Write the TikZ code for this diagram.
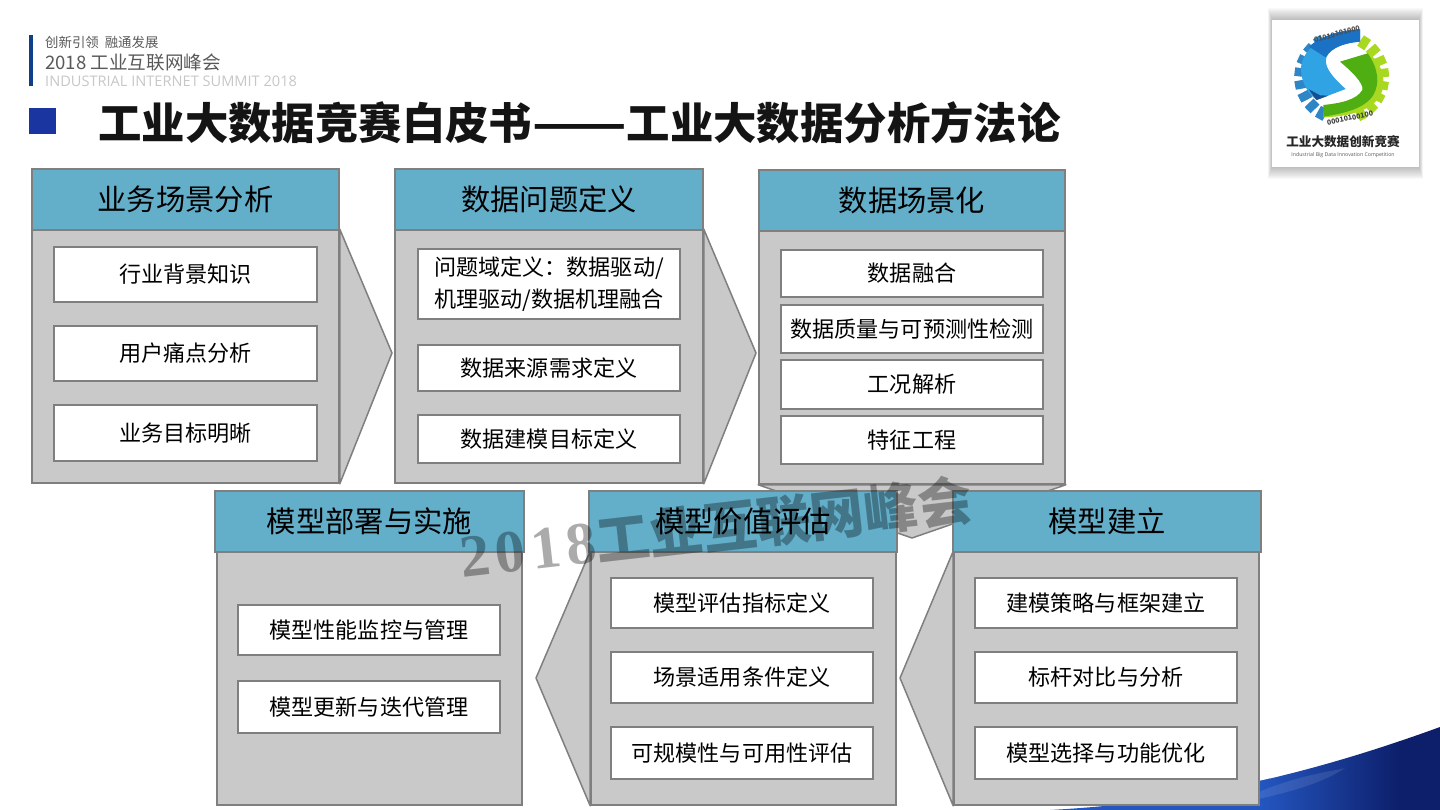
\documentclass[tikz,border=0pt]{standalone}
\usepackage{fontspec}
\setmainfont{Noto Sans CJK SC}
\newfontfamily\latinsans{Open Sans}
\newfontfamily\wmserif{Liberation Serif}[LetterSpace=9]
\usetikzlibrary{calc}
\definecolor{hdr}{HTML}{63AFCA}
\definecolor{bodyfill}{HTML}{C9C9C9}
\definecolor{edge}{HTML}{7F7F7F}
\definecolor{logocyan}{HTML}{2FA3E3}
\definecolor{logoblue}{HTML}{1B72C4}
\definecolor{logodark}{HTML}{14508F}
\definecolor{logotooth}{HTML}{2E86C6}
\definecolor{logogreen}{HTML}{4FAE12}
\definecolor{logolime}{HTML}{A8D820}
\definecolor{seaA}{HTML}{2456C0}
\definecolor{seaB}{HTML}{0D1F6B}
\tikzset{
  hdrbox/.style={draw=edge,line width=1.6pt,fill=hdr,inner sep=0pt,font=\fontsize{29.3}{32}\selectfont,text=black},
  bodybox/.style={draw=edge,line width=1.6pt,fill=bodyfill,inner sep=0pt},
  itembox/.style={draw=edge,line width=1.1pt,fill=white,inner sep=0pt,font=\fontsize{22.1}{32}\selectfont,text=black,align=center},
  pointer/.style={draw=edge,line width=1.5pt,fill=bodyfill,line join=round},
  lab/.style={inner sep=0pt,anchor=west},
  tooth/.style={line width=8.5pt}
}
\newcommand{\rbox}[7]{%
  \pgfmathsetmacro{\rw}{#4-#2}\pgfmathsetmacro{\rh}{#5-#3}%
  \pgfmathsetmacro{\rx}{(#4+#2)/2}\pgfmathsetmacro{\ry}{(#5+#3)/2}%
  \node[#6,minimum width=\rw pt,minimum height=\rh pt] (#1) at (\rx,\ry) {#7};}
\begin{document}
\begin{tikzpicture}[x=1pt,y=-1pt]
\useasboundingbox (0,0) rectangle (1440,810);
% swoosh
\begin{scope}
  \clip (1050,810) .. controls (1180,803) and (1300,778) .. (1440,727) -- (1440,810) -- cycle;
  \fill[seaA] (1040,720) rectangle (1270,812);
  \shade[left color=seaA,right color=seaB] (1260,720) rectangle (1400,812);
  \fill[seaB] (1399,720) rectangle (1441,812);
  \fill[white,opacity=.10] (1230,805) .. controls (1290,775) and (1330,772) .. (1345,768) .. controls (1320,785) and (1280,795) .. (1230,805) -- cycle;
\end{scope}
% head block
\fill[fill={rgb,255:red,15;green,63;blue,134}] (29,35) rectangle (33,86);
\node[lab,text=black!65,font=\fontsize{13.4}{15}\selectfont] (slogan) at (45,42) {创新引领\hspace{0.45em}融通发展};
\node[lab,text=black!65,font=\fontsize{18.6}{20}\selectfont] (event) at (45,63) {2018 工业互联网峰会};
\node[lab,text=black!22,font=\latinsans\fontsize{14.6}{16}\selectfont] (eventen) at (45,81) {INDUSTRIAL INTERNET SUMMIT 2018};
\fill[fill={rgb,255:red,26;green,53;blue,160}] (29,108) rectangle (56,134);
\node[lab,text=black!92,font=\bfseries\fontsize{43.4}{48}\selectfont] (title) at (98,123) {工业大数据竞赛白皮书\scalebox{1.27}[1]{——}工业大数据分析方法论};
% logo
\foreach \g in {1,...,12}{
  \fill[black,opacity=.022] (1272-\g/3,20-\g) rectangle (1419+\g/3,167+\g);}
\fill[white] (1272,20) rectangle (1419,167);
\begin{scope}[shift={(1285,20)},x=0.3333pt,y=-0.3333pt]
  \foreach \a in {122,139,...,245}{
    \draw[tooth,logotooth] ({170+105*cos(\a)},{172-105*sin(\a)}) -- ({170+142*cos(\a)},{172-142*sin(\a)});}
  \foreach \a in {-62,-45,...,60}{
    \draw[tooth,logolime] ({170+105*cos(\a)},{172-105*sin(\a)}) -- ({170+142*cos(\a)},{172-142*sin(\a)});}
  \fill[logocyan] (225,28) .. controls (130,32) and (45,85) .. (48,150) .. controls (50,195) and (75,225) .. (95,240) -- (182,207) .. controls (135,165) and (115,135) .. (125,110) .. controls (140,80) and (185,68) .. (225,65) -- cycle;
  \fill[logoblue] (225,28) .. controls (160,30) and (105,50) .. (72,80) -- (122,112) .. controls (140,80) and (185,68) .. (225,65) -- cycle;
  \fill[logodark] (72,208) .. controls (80,222) and (88,232) .. (95,240) -- (130,227) -- (105,226) -- cycle;
  \fill[logolime] (248,98) .. controls (295,130) and (310,195) .. (280,235) .. controls (250,275) and (185,290) .. (115,292) -- (115,275) -- (230,230) -- cycle;
  \fill[logogreen] (165,125) -- (248,100) .. controls (280,145) and (285,190) .. (265,225) .. controls (240,265) and (180,280) .. (115,290) -- (115,255) .. controls (165,250) and (215,240) .. (232,210) .. controls (238,190) and (195,150) .. (165,125) -- cycle;
\end{scope}
\node[inner sep=0pt,rotate=14,text=black!70,font=\bfseries\fontsize{7}{8}\selectfont] (bintop) at (1337,34) {01010101000};
\node[inner sep=0pt,rotate=12,text=black!75,font=\bfseries\fontsize{7}{8}\selectfont] (binbot) at (1350,118) {00010100100};
\node[inner sep=0pt,text=black!85,font=\bfseries\fontsize{12.6}{14}\selectfont] (logotext) at (1343,142) {工业大数据创新竞赛};
\node[inner sep=0pt,text=black!65,font=\latinsans\fontsize{5.2}{6}\selectfont] (logoen) at (1343,155) {Industrial Big Data Innovation Competition};
% panel bodies
\rbox{b1}{32}{230}{339}{483}{bodybox}{}
\rbox{b2}{395}{230}{703}{483}{bodybox}{}
\rbox{b3}{759}{231}{1065}{484}{bodybox}{}
\rbox{b4}{217}{552}{522}{805}{bodybox}{}
\rbox{b5}{591}{552}{896}{805}{bodybox}{}
\rbox{b6}{954}{552}{1259}{805}{bodybox}{}
% pointers
\coordinate (t1) at (392,353);
\coordinate (t2) at (756,353);
\coordinate (t3) at (912,538);
\coordinate (t5) at (536,678);
\coordinate (t6) at (900,678);
\draw[pointer] (b1.north east) -- (t1) -- (b1.south east) -- cycle;
\draw[pointer] (b2.north east) -- (t2) -- (b2.south east) -- cycle;
\draw[pointer] (b3.south west) -- (t3) -- (b3.south east) -- cycle;
\draw[pointer] (b5.north west) -- (t5) -- (b5.south west) -- cycle;
\draw[pointer] (b6.north west) -- (t6) -- (b6.south west) -- cycle;
% headers
\rbox{h1}{32}{169}{339}{230}{hdrbox}{业务场景分析}
\rbox{h2}{395}{169}{703}{230}{hdrbox}{数据问题定义}
\rbox{h3}{759}{170}{1065}{231}{hdrbox}{数据场景化}
\rbox{h4}{215}{491}{524}{552}{hdrbox}{模型部署与实施}
\rbox{h5}{589}{491}{897}{552}{hdrbox}{模型价值评估}
\rbox{h6}{953}{491}{1261}{552}{hdrbox}{模型建立}
% items
\rbox{a1}{54}{247}{317}{302}{itembox}{行业背景知识}
\rbox{a2}{54}{326}{317}{381}{itembox}{用户痛点分析}
\rbox{a3}{54}{405}{317}{461}{itembox}{业务目标明晰}
\rbox{c1}{418}{249}{680}{319}{itembox}{问题域定义：数据驱动/\\机理驱动/数据机理融合}
\rbox{c2}{418}{345}{680}{391}{itembox}{数据来源需求定义}
\rbox{c3}{418}{415}{680}{463}{itembox}{数据建模目标定义}
\rbox{d1}{781}{250}{1043}{297}{itembox}{数据融合}
\rbox{d2}{781}{305}{1043}{353}{itembox}{数据质量与可预测性检测}
\rbox{d3}{781}{360}{1043}{409}{itembox}{工况解析}
\rbox{d4}{781}{416}{1043}{464}{itembox}{特征工程}
\rbox{e1}{238}{605}{500}{655}{itembox}{模型性能监控与管理}
\rbox{e2}{238}{681}{500}{733}{itembox}{模型更新与迭代管理}
\rbox{f1}{611}{578}{873}{628}{itembox}{模型评估指标定义}
\rbox{f2}{611}{652}{873}{703}{itembox}{场景适用条件定义}
\rbox{f3}{611}{727}{873}{779}{itembox}{可规模性与可用性评估}
\rbox{g1}{975}{578}{1237}{628}{itembox}{建模策略与框架建立}
\rbox{g2}{975}{652}{1237}{703}{itembox}{标杆对比与分析}
\rbox{g3}{975}{727}{1237}{779}{itembox}{模型选择与功能优化}
% watermark
\node[inner sep=0pt,rotate=6.5,text=black,opacity=0.33,font=\bfseries\fontsize{54}{58}\selectfont] (wm) at (716,528) {{\wmserif\bfseries\fontsize{60}{60}\selectfont 2018}工业互联网峰会};
\end{tikzpicture}
\end{document}
